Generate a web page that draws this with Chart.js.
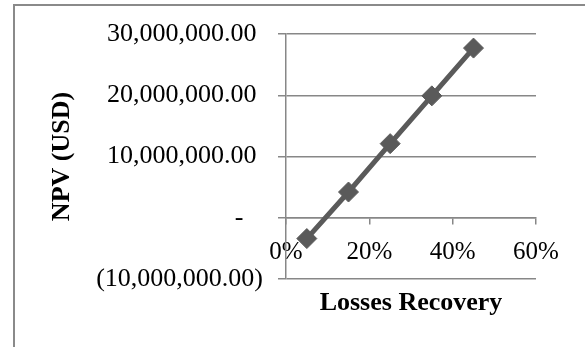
<!DOCTYPE html>
<html>
<head>
<meta charset="utf-8">
<script src="https://cdn.jsdelivr.net/npm/chart.js@4/dist/chart.umd.min.js"></script>
<style>
  body { margin: 0; background: #fff; }
  #wrap { position: relative; width: 585px; height: 347px; overflow: hidden; }
  #frame { position: absolute; left: 13px; top: 4px; width: 600px; height: 341px;
           border-left: 2px solid #8a8a8a; border-top: 2px solid #8a8a8a; border-bottom: 1px solid #e2e2e2;
           pointer-events: none; }
</style>
</head>
<body>
<div id="wrap">
  <canvas id="chart" width="585" height="347"></canvas>
  <div id="frame"></div>
</div>
<script>
// losses recovery (%) vs NPV (USD)
var recovery = [5, 15, 25, 35, 45];
var npv = [-3400000, 4200000, 12100000, 19900000, 27700000];
var xTicks = [0, 20, 40, 60];
var yTicks = [-10000000, 0, 10000000, 20000000, 30000000];

var serif = "'Liberation Serif', 'Times New Roman', serif",
    gray = '#878787',
    dark = '#5a5a5a';

function money(v) {
    if (v === 0) return '-   ';
    var s = Math.abs(v).toLocaleString('en-US', {minimumFractionDigits: 2, maximumFractionDigits: 2});
    return v < 0 ? '(' + s + ')' : s + ' ';
}

var points = recovery.map((x, i) => ({x: x, y: npv[i]}));

new Chart(document.getElementById('chart'), {
    type: 'scatter',
    data: {
        datasets: [{
            data: points,
            showLine: true,
            borderColor: dark,
            borderWidth: 5,
            backgroundColor: dark,
            pointStyle: 'rectRot',
            pointRadius: 10,
            pointBorderWidth: 1,
            pointBorderColor: dark,
            pointBackgroundColor: dark
        }]
    },
    options: {
        responsive: false,
        animation: false,
        layout: {padding: {left: 14, top: 34, right: 49, bottom: 0}},
        plugins: {legend: {display: false}, tooltip: {enabled: false}},
        scales: {
            x: {
                type: 'linear',
                position: {y: 0},
                min: 0, max: 60,
                afterBuildTicks: (scale) => { scale.ticks = xTicks.map(v => ({value: v})); },
                ticks: {
                    callback: (v) => v + '%',
                    color: '#000',
                    padding: 14,
                    maxRotation: 0,
                    font: {family: serif, size: 25}
                },
                grid: {drawOnChartArea: false, drawTicks: true, tickLength: 6, color: gray, lineWidth: 1.5},
                border: {display: true, color: gray, width: 1.5}
            },
            x2: {
                type: 'linear',
                position: 'bottom',
                min: 0, max: 60,
                afterFit: (scale) => { scale.height = 68; },
                ticks: {display: false},
                grid: {display: false},
                border: {display: false},
                title: {
                    display: true,
                    text: 'Losses Recovery',
                    color: '#000',
                    padding: {top: 0, bottom: 28},
                    font: {family: serif, size: 26, weight: 'bold'}
                }
            },
            y: {
                type: 'linear',
                min: -10000000, max: 30000000,
                afterFit: (scale) => { scale.width = 272; },
                afterBuildTicks: (scale) => { scale.ticks = yTicks.map(v => ({value: v})); },
                ticks: {
                    callback: money,
                    color: '#000',
                    padding: 15,
                    font: {family: serif, size: 26}
                },
                grid: {color: gray, lineWidth: 1.5, tickLength: 8},
                border: {display: true, color: gray, width: 1.5},
                title: {
                    display: true,
                    text: 'NPV (USD)',
                    color: '#000',
                    padding: {top: 33, bottom: 0},
                    font: {family: serif, size: 26, weight: 'bold'}
                }
            }
        }
    }
});
</script>
</body>
</html>
